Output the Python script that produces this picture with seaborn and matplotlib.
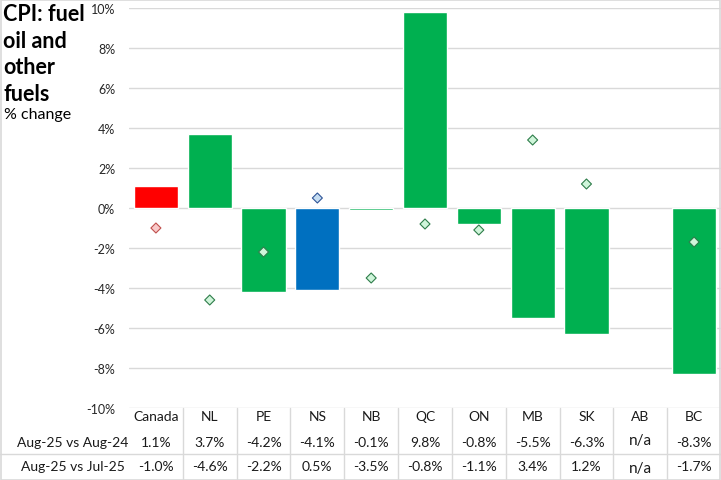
import numpy as np
import pandas as pd
import matplotlib
matplotlib.use("Agg")
import matplotlib.pyplot as plt
import seaborn as sns

regions = ["Canada", "NL", "PE", "NS", "NB", "QC", "ON", "MB", "SK", "AB", "BC"]
yoy = [1.1, 3.7, -4.2, -4.1, -0.1, 9.8, -0.8, -5.5, -6.3, np.nan, -8.3]
mom = [-1.0, -4.6, -2.2, 0.5, -3.5, -0.8, -1.1, 3.4, 1.2, np.nan, -1.7]
row_labels = ["Aug-25 vs Aug-24", "Aug-25 vs Jul-25"]
yticks = [-10, -8, -6, -4, -2, 0, 2, 4, 6, 8, 10]

bar_colors = {r: "#00B050" for r in regions}
bar_colors["Canada"] = "#FF0000"
bar_colors["NS"] = "#0070C0"
fill_colors = {r: "#CFF5DA" for r in regions}
fill_colors["Canada"] = "#F9CACA"
fill_colors["NS"] = "#C5DDF2"
edge_colors = {r: "#2E7D4A" for r in regions}
edge_colors["Canada"] = "#C0504D"
edge_colors["NS"] = "#2F5597"

sns.set_theme(style="white")
plt.rcParams["font.family"] = ["Lato", "DejaVu Sans"]

W, H = 721, 481
fig = plt.figure(figsize=(W / 100, H / 100), dpi=100)
L, R = 129, 721
ax = fig.add_axes([L / W, 72 / H, (R - L) / W, 400 / H])

df = pd.DataFrame({"region": regions, "yoy": yoy, "mom": mom})
grid_c = "#D9D9D9"
for t in yticks:
    ax.axhline(t, color=grid_c, lw=1, zorder=0)

sns.barplot(data=df, x="region", y="yoy", hue="region", order=regions,
            palette=bar_colors, width=0.82, legend=False, ax=ax, zorder=2,
            saturation=1)
sns.scatterplot(data=df, x="region", y="mom", hue="region", palette=fill_colors,
                marker="D", s=26, linewidth=0.8, legend=False, ax=ax, zorder=3)
coll = ax.collections[-1]
coll.set_edgecolors([edge_colors[r] for r in df.dropna(subset=["mom"])["region"]])

ax.set_xlim(-0.5, len(regions) - 0.5)
ax.set_ylim(-10, 10)
ax.set_yticks(yticks)
ax.set_yticklabels([f"{t}%" for t in yticks], fontsize=9, color="#262626")
ax.tick_params(axis="y", length=0, pad=10)
ax.set_xticks([])
ax.set_xlabel("")
ax.set_ylabel("")
for s in ax.spines.values():
    s.set_visible(False)

# table
axt = fig.add_axes([L / W, 0, (R - L) / W, 72 / H])
axt.set_xlim(-0.5, len(regions) - 0.5)
axt.set_ylim(72, 0)
axt.axis("off")
tc = "#1a1a1a"
for i, r in enumerate(regions):
    axt.text(i, 8, r, ha="center", va="center", fontsize=10, color=tc)
    v1 = "n/a" if np.isnan(yoy[i]) else f"{yoy[i]:.1f}%"
    v2 = "n/a" if np.isnan(mom[i]) else f"{mom[i]:.1f}%"
    axt.text(i, 34 if v1 != "n/a" else 32, v1, ha="center", va="center",
             fontsize=10 if v1 != "n/a" else 11, color=tc)
    axt.text(i, 58 if v2 != "n/a" else 60, v2, ha="center", va="center",
             fontsize=10 if v2 != "n/a" else 11, color=tc)
for i in range(len(regions) - 1):
    axt.plot([i + 0.5, i + 0.5], [0, 72], color=grid_c, lw=1, clip_on=False)

fig.text(73 / W, 1 - 443 / H, row_labels[0], ha="center", va="center",
         fontsize=10, color=tc)
fig.text(73 / W, 1 - 467 / H, row_labels[1], ha="center", va="center",
         fontsize=10, color=tc)
fig.add_artist(plt.Line2D([0, 1], [1 - 455 / H, 1 - 455 / H], color=grid_c, lw=1))

# frame
fig.add_artist(plt.Rectangle((0.5 / W, 0.5 / H), 1 - 1.5 / W, 1 - 1.5 / H,
                             fill=False, edgecolor=grid_c, lw=1.2))

fig.text(3 / W, 1 - 4 / H, "CPI: fuel\noil and\nother\nfuels", ha="left", va="top",
         fontsize=15.5, fontweight="bold", color="#000000", linespacing=1.33)
fig.text(4 / W, 1 - 115 / H, "% change", ha="left", va="center",
         fontsize=11.5, color="#000000")

fig.savefig("out.png", dpi=100)
